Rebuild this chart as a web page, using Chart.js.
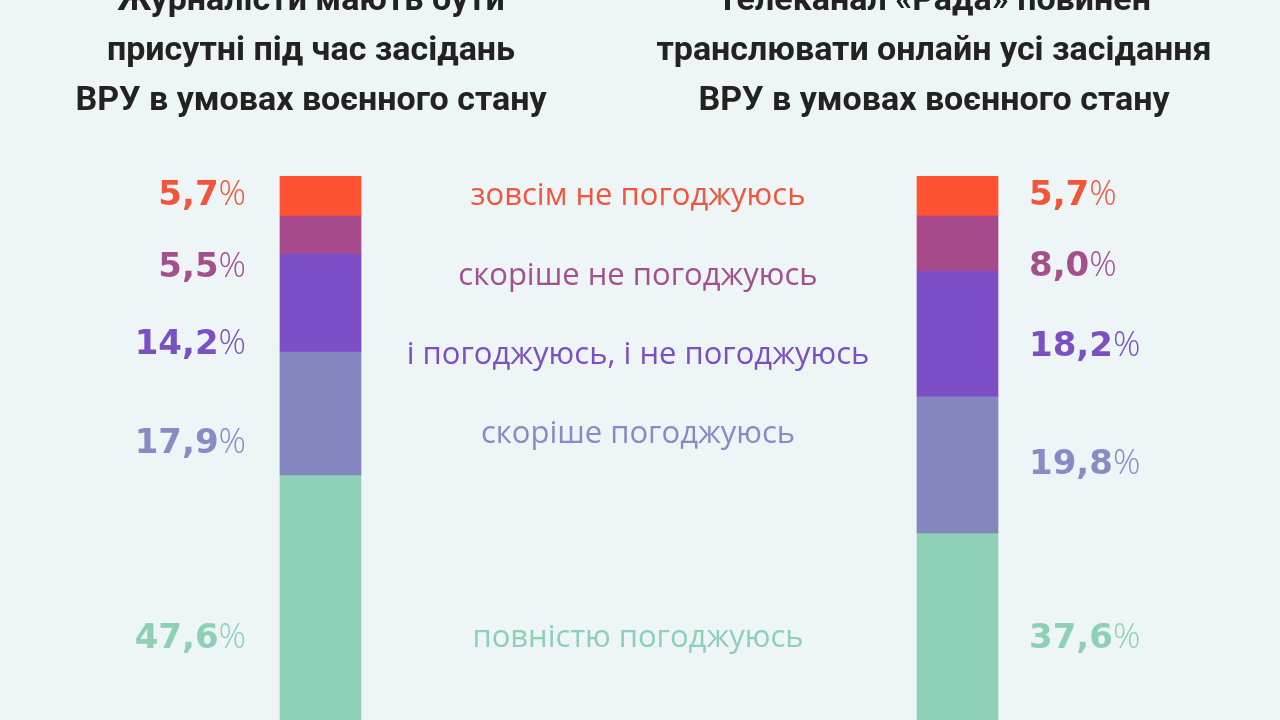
<!DOCTYPE html>
<html>
<head>
<meta charset="utf-8">
<script src="https://cdn.jsdelivr.net/npm/chart.js@4/dist/chart.umd.min.js"></script>
<style>
  html, body { margin: 0; padding: 0; background: #EDF5F6; overflow: hidden; }
  canvas { display: block; }
</style>
</head>
<body>
<canvas id="c" width="1280" height="720"></canvas>
<script>
// ---- data ----
const questions = [
  ["Журналісти мають бути", "присутні під час засідань", "ВРУ в умовах воєнного стану"],
  ["Телеканал «Рада» повинен", "транслювати онлайн усі засідання", "ВРУ в умовах воєнного стану"]
];
const answerLabels = [
  "зовсім не погоджуюсь",
  "скоріше не погоджуюсь",
  "і погоджуюсь, і не погоджуюсь",
  "скоріше погоджуюсь",
  "повністю погоджуюсь"
];
const journalists = [5.7, 5.5, 14.2, 17.9, 47.6];
const radaTV      = [5.7, 8.0, 18.2, 19.8, 37.6];

// ---- styles ----
const barColors  = ["#FF5232", "#A8498B", "#7B4EC5", "#8486C0", "#8ED1B6"];
const textColors = ["#F2553A", "#A4508C", "#7A50C2", "#898CC4", "#8ED0B6"];
const BG = "#EDF5F6";

const labelY = {
  left:   [193, 265, 342, 441, 636],
  right:  [193, 264, 344, 462, 636],
  middle: [196, 276, 355, 434, 638]
};

const datasets = answerLabels.map((lab, i) => ({
  label: lab,
  data: [journalists[i], radaTV[i]],
  backgroundColor: barColors[i],
  borderWidth: 0,
  barThickness: 81,
  stack: "s"
}));

function fmt(v) { return v.toFixed(1).replace(".", ","); }

const NUM_FONT = "bold 34px 'DejaVu Sans'";
const PCT_FONT = "300 34px 'Open Sans'";

const overlay = {
  id: "overlay",
  beforeDraw(chart) {
    const ctx = chart.ctx;
    ctx.save();
    ctx.fillStyle = BG;
    ctx.fillRect(0, 0, chart.width, chart.height);
    ctx.restore();
  },
  afterDraw(chart) {
    const ctx = chart.ctx;
    ctx.save();
    // titles
    ctx.fillStyle = "#222222";
    ctx.textAlign = "center";
    ctx.textBaseline = "middle";
    ctx.font = "bold 34px Roboto";
    const titleX = [311, 934];
    questions.forEach((lines, qi) => {
      lines.forEach((t, li) => ctx.fillText(t, titleX[qi], 1 + li * 50));
    });
    // middle answer labels
    ctx.font = "31px 'Open Sans'";
    answerLabels.forEach((t, i) => {
      ctx.fillStyle = textColors[i];
      ctx.fillText(t, 638, labelY.middle[i]);
    });
    // percentages
    ctx.textBaseline = "alphabetic";
    ctx.textAlign = "left";
    const series = [journalists, radaTV];
    series.forEach((vals, si) => {
      vals.forEach((v, i) => {
        const num = fmt(v);
        ctx.fillStyle = textColors[i];
        ctx.font = NUM_FONT;
        const w1 = ctx.measureText(num).width;
        ctx.font = PCT_FONT;
        const w2 = ctx.measureText("%").width;
        const yc = si === 0 ? labelY.left[i] : labelY.right[i];
        const y = yc + 12;
        const x0 = si === 0 ? 246 - (w1 + w2) : 1029;
        ctx.font = NUM_FONT;
        ctx.fillText(num, x0, y);
        ctx.font = PCT_FONT;
        ctx.fillText("%", x0 + w1, y);
      });
    });
    ctx.restore();
  }
};

new Chart(document.getElementById("c"), {
  type: "bar",
  data: { labels: questions.map(q => q.join(" ")), datasets },
  options: {
    responsive: false,
    animation: false,
    layout: { padding: { top: 176, bottom: 0, left: 2, right: 4 } },
    plugins: { legend: { display: false }, tooltip: { enabled: false }, title: { display: false } },
    scales: {
      x: { display: false, stacked: true, grid: { display: false } },
      y: { display: false, stacked: true, reverse: true, min: 0, max: 78.8, grid: { display: false } }
    }
  },
  plugins: [overlay]
});
</script>
</body>
</html>
